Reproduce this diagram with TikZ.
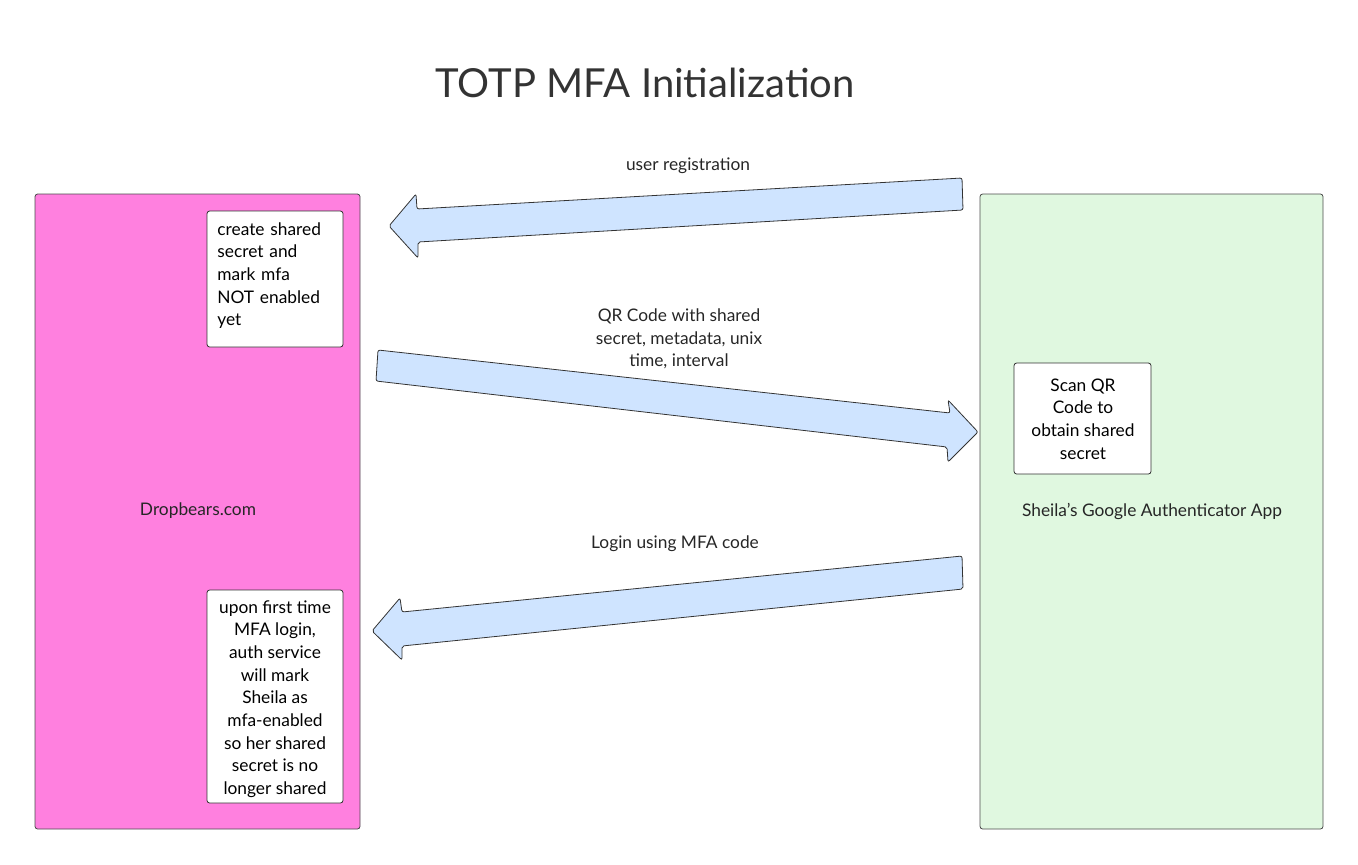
\documentclass[tikz,border=0pt]{standalone}
\usepackage{fontspec}
\setmainfont{Lato}
\begin{document}
\begin{tikzpicture}[x=0.75pt,y=-0.75pt,
  panel/.style={draw=black!70,line width=0.6pt,rounded corners=2pt},
  note/.style={draw=black!80,fill=white,line width=0.6pt,rounded corners=2pt,font=\fontsize{13}{17}\selectfont,align=center},
  fat/.style={draw=black!80,fill=blue!20!cyan!10!white,fill=arrowfill,line width=0.6pt,rounded corners=1.5pt},
  lbl/.style={font=\fontsize{13}{17}\selectfont,text=black!85,align=center}]
\definecolor{arrowfill}{HTML}{CFE4FF}
\definecolor{pinkbox}{HTML}{FF80DF}
\definecolor{greenbox}{HTML}{E0F8E0}
\useasboundingbox (0,0) rectangle (1358,864);
\node[font=\fontsize{30}{36}\selectfont,text=black!80] (title) at (645,83) {TOTP MFA Initialization};
\draw[panel,fill=pinkbox] (35,194) rectangle (360,829);
\draw[panel,fill=greenbox] (980,194) rectangle (1323,829);
\node[lbl] (drop) at (198,511) {Dropbears.com};
\node[lbl] (app) at (1152,511) {Sheila's Google Authenticator App};
\draw[note] (207,211) rectangle (343,347);
\node[note,draw=none,fill=none,align=left,anchor=north west,inner sep=0pt,text width=120pt] (n1) at (217,222) {create shared\\secret and\\mark mfa\\NOT enabled\\yet};
\draw[note] (207,590) rectangle (343,803);
\node[note,draw=none,fill=none,anchor=center,inner sep=0pt] (n2) at (275,699) {upon first time\\MFA login,\\auth service\\will mark\\Sheila as\\mfa-enabled\\so her shared\\secret is no\\longer shared};
\draw[note] (1014,363) rectangle (1151,474);
\node[note,draw=none,fill=none,anchor=center,inner sep=0pt] (n3) at (1083,419) {Scan QR\\Code to\\obtain shared\\secret};
% arrows
\draw[fat] (962,178) -- (963,210) -- (418,242) -- (418,258) -- (389,226) -- (416,194) -- (417,209) -- cycle;
\draw[fat] (378,350) -- (950,413) -- (948,400) -- (978,432) -- (948,462) -- (947,447) -- (376,381) -- cycle;
\draw[fat] (962,556) -- (963,589) -- (402,646) -- (402,660) -- (372,631) -- (400,598) -- (402,612) -- cycle;
\node[lbl] (l1) at (688,166) {user registration};
\node[lbl] (l2) at (679,339) {QR Code with shared\\secret, metadata, unix\\time, interval};
\node[lbl] (l3) at (675,544) {Login using MFA code};
\end{tikzpicture}
\end{document}
